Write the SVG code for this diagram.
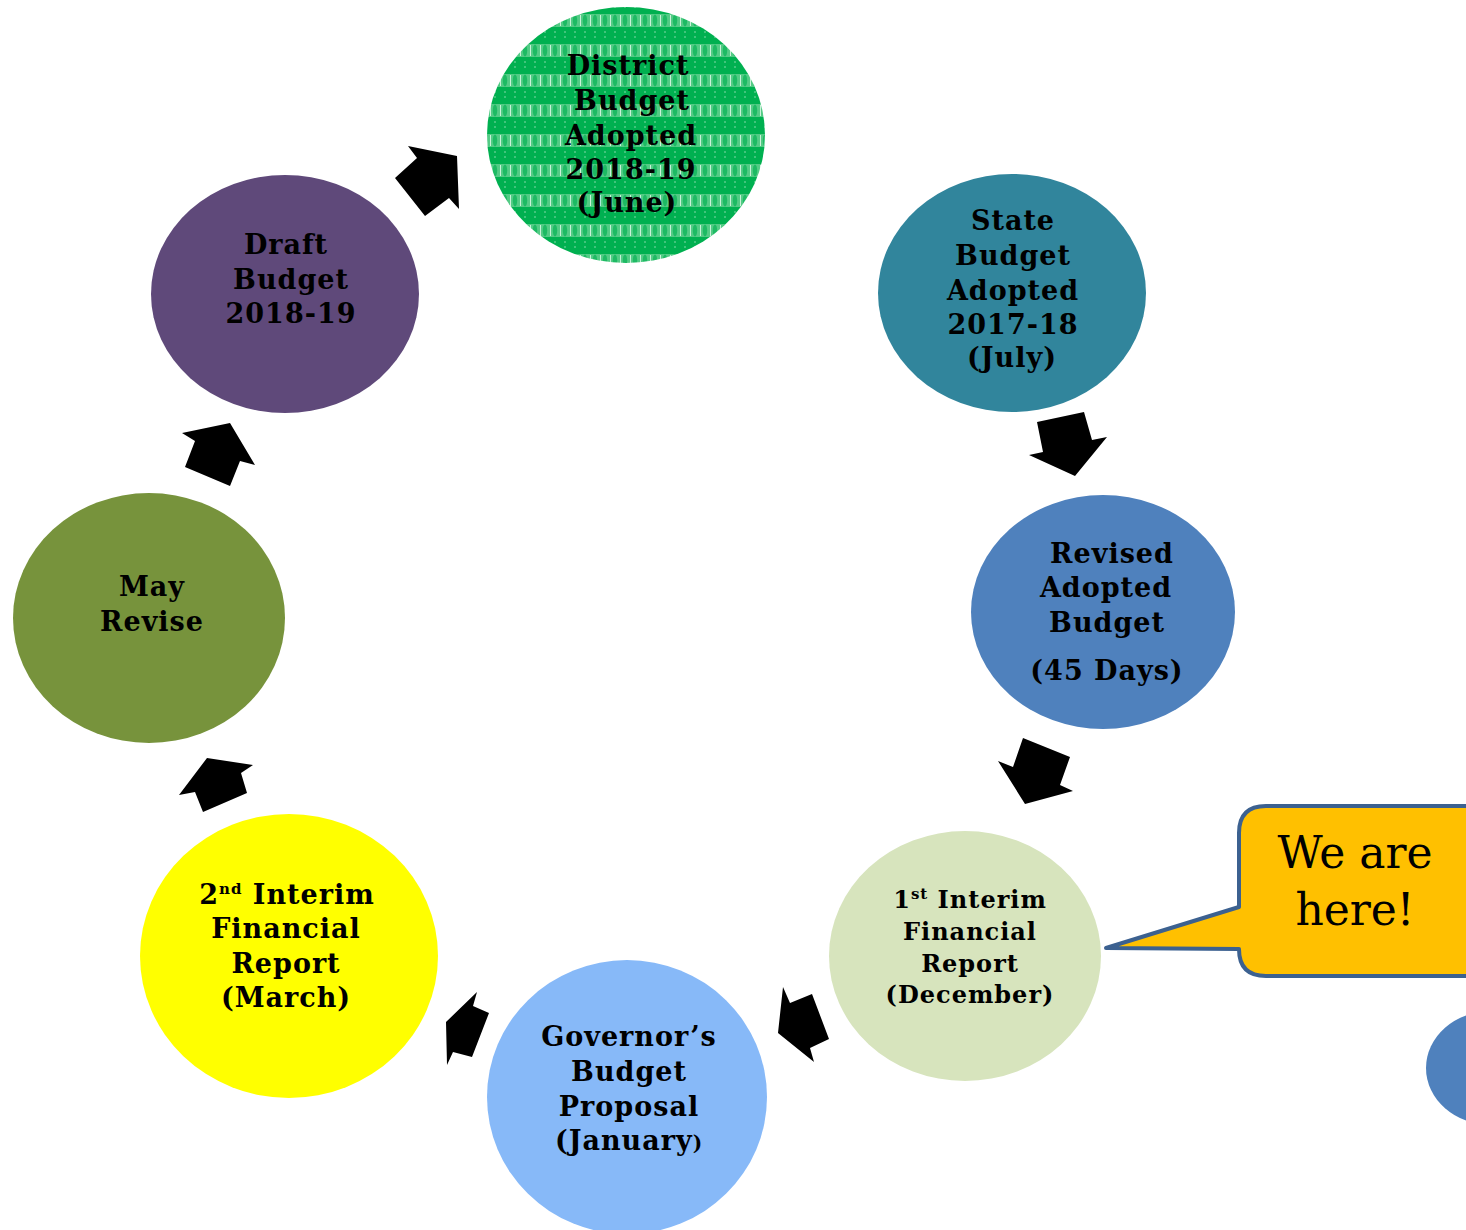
<svg xmlns="http://www.w3.org/2000/svg" width="1466" height="1230" viewBox="0 0 1466 1230">
  <style>
    .lbl { font-family: "DejaVu Serif", "Liberation Serif", serif; font-weight: bold; font-size: 27px; fill: #000; text-anchor: middle; letter-spacing: 1px; }
    .sm { font-size: 24px; }
    .sup { font-size: 15px; }
    .arrow { fill: #000; }
    .call { font-family: "DejaVu Serif", "Liberation Serif", serif; font-size: 44px; fill: #000; text-anchor: middle; }
  </style>
  <defs>
    <!-- woven green fill: light horizontal bands of lozenges with dotted rows between -->
    <pattern id="weave" x="0" y="12" width="10" height="30" patternUnits="userSpaceOnUse">
      <rect width="10" height="30" fill="#00B050"/>
      <rect x="0" y="2" width="10" height="13" fill="#6ED497" opacity="0.75"/>
      <ellipse cx="5" cy="8.5" rx="2.2" ry="6" fill="#1DBA63"/>
      <line x1="0.5" y1="3" x2="0.5" y2="14" stroke="#C9F2D9" stroke-width="1"/>
      <circle cx="5" cy="20" r="0.8" fill="#CFF3DD" opacity="0.7"/>
      <circle cx="5" cy="25" r="0.8" fill="#CFF3DD" opacity="0.7"/>
    </pattern>
  </defs>
  <rect width="1466" height="1230" fill="#fff"/>

  <g id="district">
    <ellipse cx="626" cy="135" rx="139" ry="128" fill="url(#weave)"/>
    <text class="lbl"><tspan x="628" y="75">District</tspan><tspan x="632" y="110">Budget</tspan><tspan x="631" y="145">Adopted</tspan><tspan x="631" y="179">2018-19</tspan><tspan x="627" y="212">(June)</tspan></text>
  </g>

  <g id="state">
    <ellipse cx="1012" cy="293" rx="134" ry="119" fill="#31859C"/>
    <text class="lbl"><tspan x="1013" y="230">State</tspan><tspan x="1013" y="265">Budget</tspan><tspan x="1013" y="300">Adopted</tspan><tspan x="1013" y="334">2017-18</tspan><tspan x="1012" y="367">(July)</tspan></text>
  </g>

  <g id="revised">
    <ellipse cx="1103" cy="612" rx="132" ry="117" fill="#4F81BD"/>
    <text class="lbl"><tspan x="1112" y="563">Revised</tspan><tspan x="1106" y="597">Adopted</tspan><tspan x="1107" y="632">Budget</tspan><tspan x="1107" y="680">(45 Days)</tspan></text>
  </g>

  <g id="interim1">
    <ellipse cx="965" cy="956" rx="136" ry="125" fill="#D7E4BD"/>
    <text class="lbl sm"><tspan x="970" y="908">1<tspan class="sup" dy="-9">st</tspan><tspan dy="9"> Interim</tspan></tspan><tspan x="970" y="940">Financial</tspan><tspan x="970" y="972">Report</tspan><tspan x="970" y="1003">(December)</tspan></text>
  </g>

  <g id="governor">
    <ellipse cx="627" cy="1097" rx="140" ry="137" fill="#87B9F8"/>
    <text class="lbl"><tspan x="629" y="1046">Governor’s</tspan><tspan x="629" y="1081">Budget</tspan><tspan x="629" y="1116">Proposal</tspan><tspan x="629" y="1150">(January<tspan font-size="20px">)</tspan></tspan></text>
  </g>

  <g id="interim2">
    <ellipse cx="289" cy="956" rx="149" ry="142" fill="#FFFF00"/>
    <text class="lbl"><tspan x="287" y="904">2<tspan class="sup" dy="-10">nd</tspan><tspan dy="10"> Interim</tspan></tspan><tspan x="286" y="938">Financial</tspan><tspan x="286" y="973">Report</tspan><tspan x="286" y="1007">(March)</tspan></text>
  </g>

  <g id="may">
    <ellipse cx="149" cy="618" rx="136" ry="125" fill="#77933C"/>
    <text class="lbl"><tspan x="152" y="596">May</tspan><tspan x="152" y="631">Revise</tspan></text>
  </g>

  <g id="draft">
    <ellipse cx="285" cy="294" rx="134" ry="119" fill="#5F497A"/>
    <text class="lbl"><tspan x="286" y="254">Draft</tspan><tspan x="291" y="289">Budget</tspan><tspan x="291" y="323">2018-19</tspan></text>
  </g>

  <g id="next">
    <ellipse cx="1491" cy="1068" rx="65" ry="57" fill="#4F81BD"/>
  </g>

  <g id="callout">
    <path d="M1266 806 H1480 V976 H1266 Q1239 976 1239 949 L1106 948 L1239 907 V833 Q1239 806 1266 806 Z" fill="#FFC000" stroke="#3C6190" stroke-width="4" stroke-linejoin="round"/>
    <text class="call"><tspan x="1355" y="868">We are</tspan><tspan x="1355" y="925">here!</tspan></text>
  </g>

  <g id="connectors">
    <polygon class="arrow" points="408,146 457,156 459,209 449,198 425,216 395,178 417,158"/>
    <polygon class="arrow" points="1037,422 1084,412 1092,440 1107,437 1075,476 1029,455 1043,452"/>
    <polygon class="arrow" points="1023,738 1070,757 1060,785 1073,791 1025,804 998,761 1013,767"/>
    <polygon class="arrow" points="783,987 790,1003 812,994 829,1039 810,1048 814,1062 778,1033"/>
    <polygon class="arrow" points="477,992 473,1006 489,1013 472,1057 453,1052 447,1065 446,1022"/>
    <polygon class="arrow" points="207,758 253,765 241,773 247,793 203,812 195,792 179,795"/>
    <polygon class="arrow" points="182,433 230,423 255,465 240,461 230,486 185,467 195,441"/>
  </g>
</svg>
